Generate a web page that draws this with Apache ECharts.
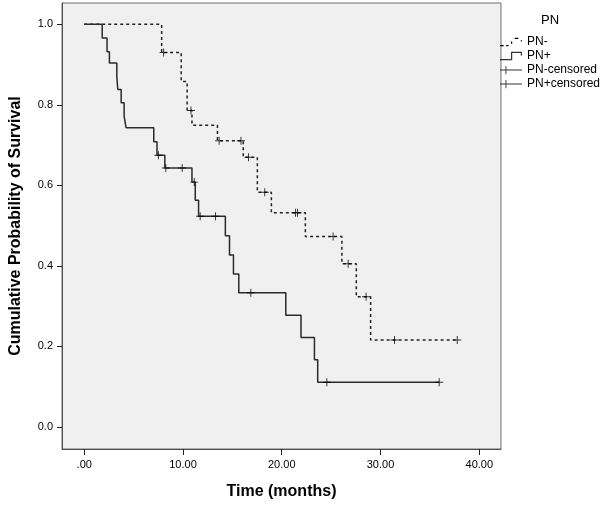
<!DOCTYPE html>
<html>
<head>
<meta charset="utf-8">
<script src="https://cdn.jsdelivr.net/npm/echarts@6/dist/echarts.min.js"></script>
<style>
html,body{margin:0;padding:0;background:#fff;}
#chart{width:600px;height:505px;}
</style>
</head>
<body>
<div id="chart"></div>
<script>
// ---- data ----
var pnNegTime = [0, 7.84, 9.82, 10.42, 10.91, 13.49, 16.10, 17.53, 18.95, 22.39, 26.09, 27.55, 29.0, 37.77];
var pnNegSurv = [1.0, 0.930, 0.858, 0.786, 0.749, 0.711, 0.670, 0.583, 0.532, 0.473, 0.405, 0.323, 0.216, 0.216];
var pnNegCensorTime = [8.04, 10.81, 13.66, 15.87, 16.64, 18.28, 21.4, 21.6, 25.2, 26.72, 28.54, 31.42, 37.77];
var pnNegCensorSurv = [0.930, 0.786, 0.711, 0.711, 0.670, 0.583, 0.532, 0.532, 0.473, 0.405, 0.323, 0.216, 0.216];

var pnPosTime = [0, 1.82, 2.31, 2.55, 3.30, 3.40, 3.74, 4.04, 4.24, 7.04, 7.37, 8.16, 10.91, 11.24, 11.58, 14.29, 14.71, 15.11, 15.65, 20.41, 21.95, 23.31, 23.64, 35.94];
var pnPosSurv = [1.0, 0.966, 0.932, 0.904, 0.869, 0.838, 0.805, 0.772, 0.743, 0.708, 0.675, 0.643, 0.608, 0.563, 0.523, 0.475, 0.427, 0.380, 0.333, 0.277, 0.222, 0.167, 0.111, 0.111];
var pnPosCensorTime = [7.51, 8.26, 9.92, 11.14, 11.74, 13.29, 16.87, 24.57, 35.94];
var pnPosCensorSurv = [0.675, 0.643, 0.643, 0.608, 0.523, 0.523, 0.333, 0.111, 0.111];

var xTickValues = [0, 10, 20, 30, 40];
var xTickLabels = ['.00', '10.00', '20.00', '30.00', '40.00'];
var yTickValues = [0, 0.2, 0.4, 0.6, 0.8, 1.0];
var yTickLabels = ['0.0', '0.2', '0.4', '0.6', '0.8', '1.0'];

var seriesNames = ['PN-', 'PN+', 'PN-censored', 'PN+censored'];
var legendTitle = 'PN';
var xTitle = 'Time (months)';
var yTitle = 'Cumulative Probability of Survival';

function zip(a, b) { return a.map(function (v, i) { return [v, b[i]]; }); }
function labelFor(values, labels) {
  return function (v) {
    for (var i = 0; i < values.length; i++) if (Math.abs(values[i] - v) < 1e-6) return labels[i];
    return '';
  };
}

var FONT = '"Liberation Sans", Arial, sans-serif';
var crossPath = 'path://M-0.12,-1H0.12V-0.12H1V0.12H0.12V1H-0.12V0.12H-1V-0.12H-0.12Z';

var iconDash = 'path://M0,8H3V9H0Z M5,8H7V9H5Z M9,5H10V7H9Z M12,2H15V3H12Z M17,4H18V5H17Z';
var iconSolid = 'path://M0,8H9V2H18V5H17V3H10V9H0Z';
var iconCensor = 'path://M0,5H24V6H0Z M6,1H7V10H6Z';

var chart = echarts.init(document.getElementById('chart'), null, { renderer: 'canvas' });
chart.setOption({
  animation: false,
  backgroundColor: '#ffffff',
  textStyle: { fontFamily: FONT },
  title: {
    text: legendTitle,
    left: 536, top: 9,
    textStyle: { fontSize: 13, fontWeight: 'normal', color: '#000', fontFamily: FONT }
  },
  legend: {
    orient: 'vertical',
    left: 500, top: 36,
    padding: 0,
    itemWidth: 22, itemHeight: 10, itemGap: 2,
    selectedMode: false,
    textStyle: { fontSize: 12, color: '#000', fontFamily: FONT },
    data: [
      { name: seriesNames[0], icon: iconDash, itemStyle: { color: '#000', borderWidth: 0, borderColor: 'transparent' } },
      { name: seriesNames[1], icon: iconSolid, itemStyle: { color: '#333', borderWidth: 0, borderColor: 'transparent' } },
      { name: seriesNames[2], icon: iconCensor, itemStyle: { color: '#000', borderWidth: 0, borderColor: 'transparent' } },
      { name: seriesNames[3], icon: iconCensor, itemStyle: { color: '#000', borderWidth: 0, borderColor: 'transparent' } }
    ]
  },
  grid: {
    left: 52, right: 99, top: 3, bottom: 53,
    show: true,
    backgroundColor: '#f0f0f0',
    borderColor: '#707070',
    borderWidth: 1
  },
  xAxis: {
    type: 'value',
    min: -2.25, max: 42.2,
    name: xTitle,
    nameLocation: 'middle',
    nameGap: 35,
    nameTextStyle: { fontSize: 16, fontWeight: 'bold', color: '#000', fontFamily: FONT },
    axisLine: { show: true, onZero: false, lineStyle: { color: '#505050', width: 1 } },
    axisTick: { show: true, length: 6, customValues: xTickValues, lineStyle: { color: '#222' } },
    axisLabel: { customValues: xTickValues, formatter: labelFor(xTickValues, xTickLabels), fontSize: 11, color: '#000', margin: 10, fontFamily: FONT },
    splitLine: { show: false }
  },
  yAxis: {
    type: 'value',
    min: -0.055, max: 1.053,
    name: yTitle,
    nameLocation: 'middle',
    nameGap: 38,
    nameTextStyle: { fontSize: 16, fontWeight: 'bold', color: '#000', fontFamily: FONT },
    axisLine: { show: true, onZero: false, lineStyle: { color: '#505050', width: 1 } },
    axisTick: { show: true, length: 5, customValues: yTickValues, lineStyle: { color: '#222' } },
    axisLabel: { customValues: yTickValues, formatter: labelFor(yTickValues, yTickLabels), fontSize: 11, color: '#000', margin: 9, fontFamily: FONT },
    splitLine: { show: false }
  },
  series: [
    {
      name: seriesNames[0], type: 'line', step: 'end',
      data: zip(pnNegTime, pnNegSurv),
      showSymbol: false, symbol: 'none',
      color: '#000',
      lineStyle: { color: '#222', width: 1.5, type: [3, 3] },
      z: 2
    },
    {
      name: seriesNames[1], type: 'line', step: 'end',
      data: zip(pnPosTime, pnPosSurv),
      showSymbol: false, symbol: 'none',
      color: '#333',
      lineStyle: { color: '#2a2a2a', width: 1.5, type: 'solid' },
      z: 2
    },
    {
      name: seriesNames[2], type: 'scatter',
      data: zip(pnNegCensorTime, pnNegCensorSurv),
      symbol: crossPath, symbolSize: 8,
      itemStyle: { color: '#000' },
      z: 3
    },
    {
      name: seriesNames[3], type: 'scatter',
      data: zip(pnPosCensorTime, pnPosCensorSurv),
      symbol: crossPath, symbolSize: 8,
      itemStyle: { color: '#000' },
      z: 3
    }
  ]
});
</script>
</body>
</html>
